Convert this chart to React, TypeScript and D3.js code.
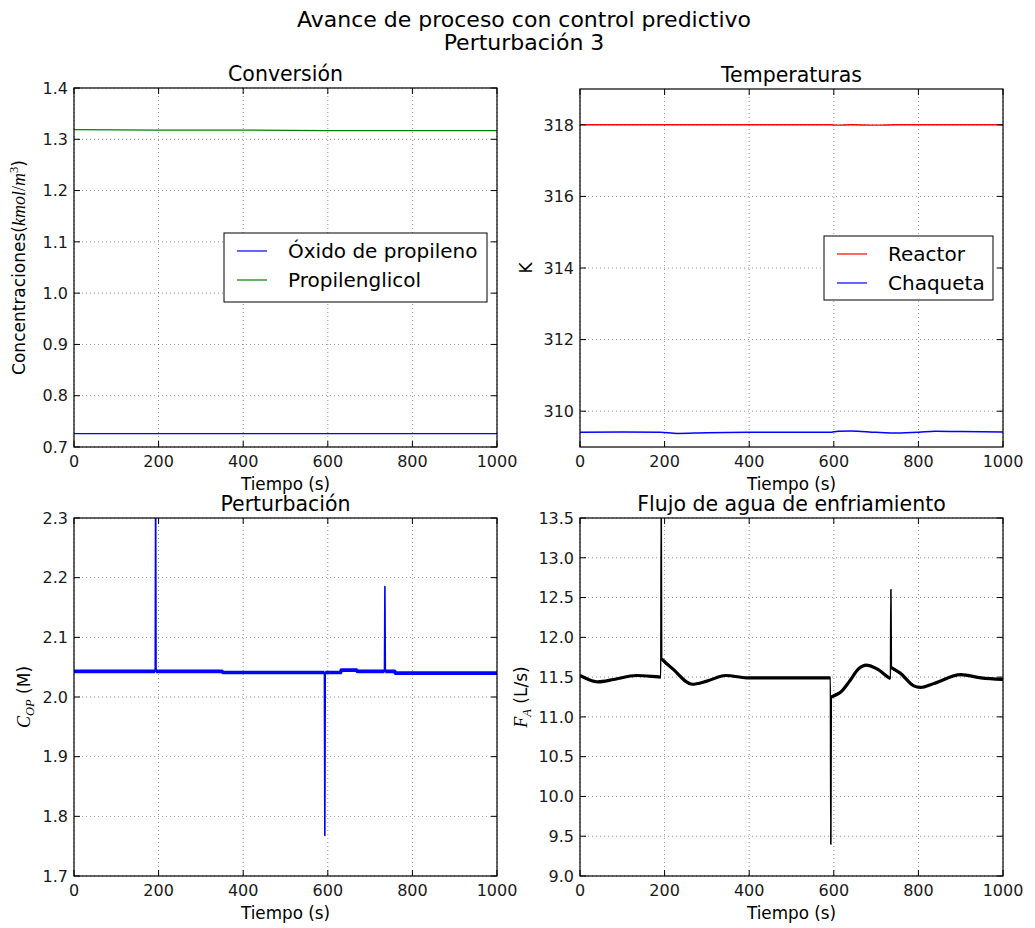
import React from 'react';
import * as d3 from 'd3';

// ---------- data ----------
const timeTicks = [0, 200, 400, 600, 800, 1000];

const conversionTime = [0, 200, 400, 600, 800, 1000];
const oxideValues = [0.726, 0.726, 0.726, 0.726, 0.726, 0.726];
const glycolValues = [1.319, 1.318, 1.318, 1.317, 1.317, 1.317];
const conversionTicks = [0.7, 0.8, 0.9, 1.0, 1.1, 1.2, 1.3, 1.4];

const tempTime = [0, 100, 190, 230, 300, 400, 500, 590, 610, 640, 700, 750, 800, 840, 900, 1000];
const reactorTemp = [318.0, 318.0, 318.0, 318.0, 318.0, 318.0, 318.0, 318.0, 317.99, 318.0, 317.99, 318.0, 318.0, 318.0, 318.0, 318.0];
const jacketTemp = [309.41, 309.42, 309.41, 309.38, 309.4, 309.41, 309.41, 309.41, 309.44, 309.45, 309.41, 309.39, 309.41, 309.44, 309.43, 309.42];
const tempTicks = [310, 312, 314, 316, 318];

const perturbTime = [0, 192, 193, 194, 350, 352, 592, 593, 594, 630, 632, 668, 670, 734, 735, 736, 758, 760, 1000];
const perturbValue = [2.043, 2.043, 2.35, 2.043, 2.043, 2.041, 2.041, 1.768, 2.041, 2.041, 2.045, 2.045, 2.043, 2.043, 2.185, 2.043, 2.043, 2.04, 2.04];
const perturbTicks = [1.7, 1.8, 1.9, 2.0, 2.1, 2.2, 2.3];

const flowTime = [0, 20, 42, 80, 133, 170, 191, 192, 193, 220, 265, 300, 344, 400, 500, 592, 593, 594, 620, 636, 660, 676, 700, 731, 734, 735, 736, 757, 789, 805, 837, 900, 948, 1000];
const flowValue = [11.52, 11.47, 11.44, 11.47, 11.52, 11.51, 11.5, 13.6, 11.73, 11.6, 11.41, 11.45, 11.52, 11.49, 11.49, 11.49, 9.4, 11.25, 11.33, 11.44, 11.61, 11.65, 11.61, 11.49, 11.48, 12.6, 11.62, 11.55, 11.39, 11.37, 11.42, 11.53, 11.49, 11.47];
const flowTicks = [9.0, 9.5, 10.0, 10.5, 11.0, 11.5, 12.0, 12.5, 13.0, 13.5];

const FONT = 'DejaVu Sans, Verdana, sans-serif';
const MATH = 'Liberation Serif, DejaVu Serif, serif';

type Series = {
  t: number[];
  v: number[];
  color: string;
  width: number;
  thick?: number;
  smooth?: boolean;
};

type PanelProps = {
  id: string;
  left: number;
  top: number;
  right: number;
  bottom: number;
  yDomain: [number, number];
  yTicks: number[];
  fmt: (v: number) => string;
  title: string;
  yLabel: React.ReactNode;
  yLabelX: number;
  series: Series[];
  legend?: { x: number; y: number; w: number; h: number; items: { label: string; color: string }[] };
};

function Panel(p: PanelProps) {
  const x = d3.scaleLinear().domain([0, 1000]).range([p.left, p.right]);
  const y = d3.scaleLinear().domain(p.yDomain).range([p.bottom, p.top]);
  const tick = 6;
  const cx = (p.left + p.right) / 2;
  const cy = (p.top + p.bottom) / 2;
  return (
    <g>
      <defs>
        <clipPath id={p.id}>
          <rect x={p.left} y={p.top} width={p.right - p.left} height={p.bottom - p.top} />
        </clipPath>
      </defs>
      <rect x={p.left} y={p.top} width={p.right - p.left} height={p.bottom - p.top} fill="#fff" />
      {/* grid */}
      {timeTicks.map((t) => (
        <line key={'gx' + t} x1={x(t)} x2={x(t)} y1={p.top} y2={p.bottom} stroke="#000" strokeWidth={0.6} strokeDasharray="1,3" opacity={0.7} />
      ))}
      {p.yTicks.map((t) => (
        <line key={'gy' + t} x1={p.left} x2={p.right} y1={y(t)} y2={y(t)} stroke="#000" strokeWidth={0.6} strokeDasharray="1,3" opacity={0.7} />
      ))}
      {/* series */}
      <g clipPath={`url(#${p.id})`}>
        {p.series.map((s, i) => {
          const pts = s.t.map((t, k) => [t, s.v[k]] as [number, number]);
          const line = d3
            .line<[number, number]>()
            .x((d) => x(d[0]))
            .y((d) => y(d[1]))
            .curve(s.smooth ? d3.curveMonotoneX : d3.curveLinear);
          const span = p.yDomain[1] - p.yDomain[0];
          const isSpike = (k: number) =>
            k > 0 && k < s.v.length - 1 &&
            Math.abs(s.v[k] - s.v[k - 1]) > span * 0.05 &&
            Math.abs(s.v[k] - s.v[k + 1]) > span * 0.05;
          const thickLine = d3
            .line<[number, number]>()
            .defined((_d, k) => !isSpike(k))
            .x((d) => x(d[0]))
            .y((d) => y(d[1]))
            .curve(s.smooth ? d3.curveMonotoneX : d3.curveLinear);
          return (
            <g key={i}>
              <path d={line(pts) || ''} fill="none" stroke={s.color} strokeWidth={s.width} strokeLinejoin="round" />
              {s.thick ? (
                <path d={thickLine(pts) || ''} fill="none" stroke={s.color} strokeWidth={s.thick} strokeLinejoin="round" />
              ) : null}
            </g>
          );
        })}
      </g>
      {/* frame */}
      <rect x={p.left} y={p.top} width={p.right - p.left} height={p.bottom - p.top} fill="none" stroke="#000" strokeWidth={1.2} />
      {/* ticks */}
      {timeTicks.map((t) => (
        <g key={'tx' + t}>
          <line x1={x(t)} x2={x(t)} y1={p.bottom} y2={p.bottom - tick} stroke="#000" strokeWidth={1} />
          <line x1={x(t)} x2={x(t)} y1={p.top} y2={p.top + tick} stroke="#000" strokeWidth={1} />
          <text x={x(t)} y={p.bottom + 20} textAnchor="middle" fontFamily={FONT} fontSize={16} fill="#1a1a1a">
            {t}
          </text>
        </g>
      ))}
      {p.yTicks.map((t) => (
        <g key={'ty' + t}>
          <line x1={p.left} x2={p.left + tick} y1={y(t)} y2={y(t)} stroke="#000" strokeWidth={1} />
          <line x1={p.right} x2={p.right - tick} y1={y(t)} y2={y(t)} stroke="#000" strokeWidth={1} />
          <text x={p.left - 6} y={y(t)} dy="0.36em" textAnchor="end" fontFamily={FONT} fontSize={16} fill="#1a1a1a">
            {p.fmt(t)}
          </text>
        </g>
      ))}
      {/* labels */}
      <text x={cx} y={p.top - 7} textAnchor="middle" fontFamily={FONT} fontSize={20.5} fill="#000">
        {p.title}
      </text>
      <text x={cx} y={p.bottom + 43} textAnchor="middle" fontFamily={FONT} fontSize={16.8} fill="#000">
        Tiempo (s)
      </text>
      <text transform={`translate(${p.yLabelX},${cy}) rotate(-90)`} textAnchor="middle" fontFamily={FONT} fontSize={17} fill="#000">
        {p.yLabel}
      </text>
      {p.legend ? (
        <g>
          <rect x={p.legend.x} y={p.legend.y} width={p.legend.w} height={p.legend.h} fill="#fff" stroke="#000" strokeWidth={1} />
          {p.legend.items.map((it, k) => {
            const ly = p.legend!.y + 18 + k * 29;
            return (
              <g key={it.label}>
                <line x1={p.legend!.x + 13} x2={p.legend!.x + 43} y1={ly} y2={ly} stroke={it.color} strokeWidth={1.2} />
                <text x={p.legend!.x + 64} y={ly} dy="0.36em" fontFamily={FONT} fontSize={20} fill="#000">
                  {it.label}
                </text>
              </g>
            );
          })}
        </g>
      ) : null}
    </g>
  );
}

export default function App() {
  const f1 = (v: number) => v.toFixed(1);
  const f0 = (v: number) => v.toFixed(0);
  return (
    <svg width={1035} height={928} style={{ position: 'absolute', left: 0, top: 0, background: '#fff' }}>
      <rect x={0} y={0} width={1035} height={928} fill="#fff" />
      <text x={524} y={27} textAnchor="middle" fontFamily={FONT} fontSize={22} fill="#000">
        Avance de proceso con control predictivo
      </text>
      <text x={524} y={50} textAnchor="middle" fontFamily={FONT} fontSize={22} fill="#000">
        Perturbación 3
      </text>
      <Panel
        id="c1"
        left={74}
        top={88}
        right={497}
        bottom={447}
        yDomain={[0.7, 1.4]}
        yTicks={conversionTicks}
        fmt={f1}
        title="Conversión"
        yLabelX={25}
        yLabel={
          <>
            <tspan>Concentraciones(</tspan>
            <tspan fontFamily={MATH} fontStyle="italic" fontSize={18}>kmol</tspan>
            <tspan fontFamily={MATH} fontSize={18}>/</tspan>
            <tspan fontFamily={MATH} fontStyle="italic" fontSize={18}>m</tspan>
            <tspan fontFamily={MATH} fontSize={12.5} dy={-7}>3</tspan>
            <tspan dy={7}>)</tspan>
          </>
        }
        series={[
          { t: conversionTime, v: oxideValues, color: '#0000ff', width: 1.2 },
          { t: conversionTime, v: glycolValues, color: '#008000', width: 1.2 },
        ]}
        legend={{
          x: 224,
          y: 233,
          w: 263,
          h: 69,
          items: [
            { label: 'Óxido de propileno', color: '#0000ff' },
            { label: 'Propilenglicol', color: '#008000' },
          ],
        }}
      />
      <Panel
        id="c2"
        left={580}
        top={89}
        right={1003}
        bottom={447}
        yDomain={[309, 319]}
        yTicks={tempTicks}
        fmt={f0}
        title="Temperaturas"
        yLabelX={532}
        yLabel={<tspan>K</tspan>}
        series={[
          { t: tempTime, v: reactorTemp, color: '#ff0000', width: 1.4, smooth: true },
          { t: tempTime, v: jacketTemp, color: '#0000ff', width: 1.5, smooth: true },
        ]}
        legend={{
          x: 824,
          y: 236,
          w: 169,
          h: 64,
          items: [
            { label: 'Reactor', color: '#ff0000' },
            { label: 'Chaqueta', color: '#0000ff' },
          ],
        }}
      />
      <Panel
        id="c3"
        left={74}
        top={518}
        right={497}
        bottom={876}
        yDomain={[1.7, 2.3]}
        yTicks={perturbTicks}
        fmt={f1}
        title="Perturbación"
        yLabelX={30}
        yLabel={
          <>
            <tspan fontFamily={MATH} fontStyle="italic" fontSize={18}>C</tspan>
            <tspan fontFamily={MATH} fontStyle="italic" fontSize={12.5} dy={4}>OP</tspan>
            <tspan dy={-4}> (M)</tspan>
          </>
        }
        series={[{ t: perturbTime, v: perturbValue, color: '#0000ff', width: 1.6, thick: 3.6 }]}
      />
      <Panel
        id="c4"
        left={580}
        top={518}
        right={1003}
        bottom={876}
        yDomain={[9, 13.5]}
        yTicks={flowTicks}
        fmt={f1}
        title="Flujo de agua de enfriamiento"
        yLabelX={527}
        yLabel={
          <>
            <tspan fontFamily={MATH} fontStyle="italic" fontSize={18}>F</tspan>
            <tspan fontFamily={MATH} fontStyle="italic" fontSize={12.5} dy={4}>A</tspan>
            <tspan dy={-4}> (L/s)</tspan>
          </>
        }
        series={[{ t: flowTime, v: flowValue, color: '#000', width: 1.6, thick: 3.2, smooth: true }]}
      />
    </svg>
  );
}
